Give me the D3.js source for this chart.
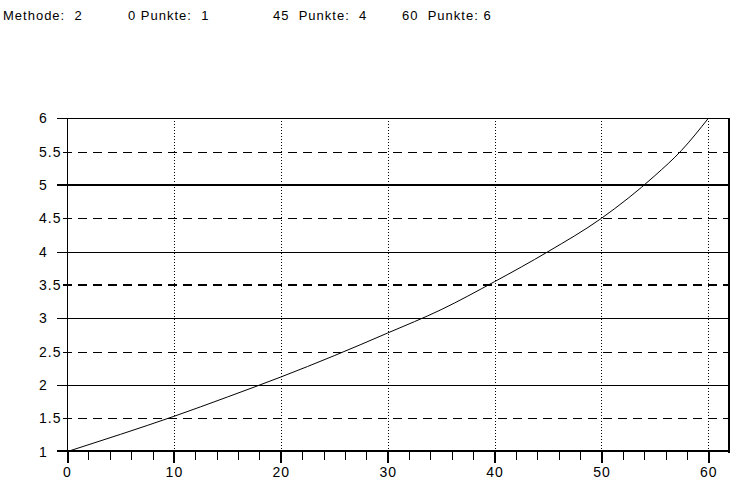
<!DOCTYPE html>
<html>
<head>
<meta charset="utf-8">
<script src="https://cdn.jsdelivr.net/npm/d3@7"></script>
<style>
  html, body { margin: 0; padding: 0; background: #fff; }
  svg { display: block; }
  text { font-family: "Liberation Sans", Arial, sans-serif; fill: #000; }
</style>
</head>
<body>
<svg id="chart" width="733" height="483"></svg>
<script>
// ---- data ----
const headerTexts = ["Methode:  2", "0 Punkte:  1", "45  Punkte:  4", "60  Punkte: 6"];
const curveX = [0, 5, 10, 15, 20, 25, 30, 35, 40, 45, 50, 55, 57.5, 60];
const curveY = [1.00, 1.26, 1.53, 1.82, 2.12, 2.44, 2.78, 3.13, 3.55, 4.00, 4.50, 5.14, 5.52, 6.00];
const xMajorTicks = [0, 10, 20, 30, 40, 50, 60];
const xMinorTicks = [2, 4, 6, 8, 12, 14, 16, 18, 22, 24, 26, 28, 32, 34, 36, 38, 42, 44, 46, 48, 52, 54, 56, 58];
const yTicks = [1, 1.5, 2, 2.5, 3, 3.5, 4, 4.5, 5, 5.5, 6];

// ---- layout ----
(function () {
const svg = d3.select("#chart");
const headerX = [3, 128, 273, 402];
const pLeft = 67, pRight = 729.7, pTop = 118.3, pBottom = 451.7;
const x = d3.scaleLinear().domain([0, 62]).range([pLeft, pRight]);
const y = d3.scaleLinear().domain([1, 6]).range([pBottom, pTop]);
const px = v => Math.round(v) + 0.5;

// header
svg.append("g").selectAll("text").data(headerTexts).join("text")
  .attr("x", (d, i) => headerX[i]).attr("y", 20)
  .style("font-size", "13px").style("letter-spacing", "1px")
  .style("white-space", "pre").attr("xml:space", "preserve")
  .text(d => d);

// vertical dotted grid lines
svg.append("g").selectAll("line").data(xMajorTicks.filter(d => d > 0)).join("line")
  .attr("x1", d => px(x(d))).attr("x2", d => px(x(d)))
  .attr("y1", y(6)).attr("y2", y(1))
  .attr("stroke", "#000").attr("stroke-width", 1)
  .attr("stroke-dasharray", "1,2").attr("shape-rendering", "crispEdges");

// horizontal grid lines (extend left as tick marks)
const isInt = v => Math.abs(v - Math.round(v)) < 1e-9;
const thick = v => v === 5 || v === 3.5;
svg.append("g").selectAll("line").data(yTicks.filter(d => d > 1)).join("line")
  .attr("x1", d => isInt(d) ? 57 : 63).attr("x2", 729)
  .attr("y1", d => thick(d) ? Math.round(y(d)) : px(y(d)))
  .attr("y2", d => thick(d) ? Math.round(y(d)) : px(y(d)))
  .attr("stroke", "#000")
  .attr("stroke-width", d => thick(d) ? 2 : 1)
  .attr("stroke-dasharray", d => isInt(d) ? null : "9,6")
  .attr("shape-rendering", "crispEdges");

// y axis labels
const yAxis = d3.axisLeft(y).tickValues(yTicks).tickSize(0).tickFormat(d3.format("~g"));
const gy = svg.append("g").attr("transform", `translate(${pLeft},0)`).call(yAxis);
gy.select(".domain").remove();
gy.attr("font-family", null).attr("font-size", null);
gy.selectAll("text").attr("x", 39 - pLeft).attr("text-anchor", "start")
  .style("font-size", "14px").style("letter-spacing", "1px");

// y axis line
svg.append("line").attr("x1", px(pLeft)).attr("x2", px(pLeft))
  .attr("y1", y(6)).attr("y2", y(1)).attr("stroke", "#000").attr("shape-rendering", "crispEdges");

// right border
svg.append("line").attr("x1", 729).attr("x2", 729)
  .attr("y1", y(6) - 0.5).attr("y2", pBottom + 1).attr("stroke", "#000").attr("stroke-width", 2)
  .attr("shape-rendering", "crispEdges");

// x axis minor ticks
const gxMinor = svg.append("g").attr("transform", `translate(0,${pBottom})`)
  .call(d3.axisBottom(x).tickValues(xMinorTicks).tickSize(8).tickFormat(""));
gxMinor.select(".domain").remove();
gxMinor.selectAll("line").attr("shape-rendering", "crispEdges");

// x axis major ticks + labels
const gx = svg.append("g").attr("transform", `translate(0,${pBottom})`)
  .call(d3.axisBottom(x).tickValues(xMajorTicks).tickSize(11).tickPadding(4).tickFormat(d3.format("d")));
gx.select(".domain").remove();
gx.attr("font-family", null).attr("font-size", null);
gx.selectAll("line").attr("stroke-width", 2).attr("shape-rendering", "crispEdges");
gx.selectAll("text").style("font-size", "14px").style("letter-spacing", "1px");

// x axis line (thick)
svg.append("line").attr("x1", 57).attr("x2", 730)
  .attr("y1", 451).attr("y2", 451).attr("stroke", "#000").attr("stroke-width", 2)
  .attr("shape-rendering", "crispEdges");

// curve
const pts = curveX.map((d, i) => [d, curveY[i]]);
svg.append("path").datum(pts)
  .attr("d", d3.line().x(d => x(d[0])).y(d => y(d[1])).curve(d3.curveMonotoneX))
  .attr("fill", "none").attr("stroke", "#000").attr("stroke-width", 1);
})();
</script>
</body>
</html>
